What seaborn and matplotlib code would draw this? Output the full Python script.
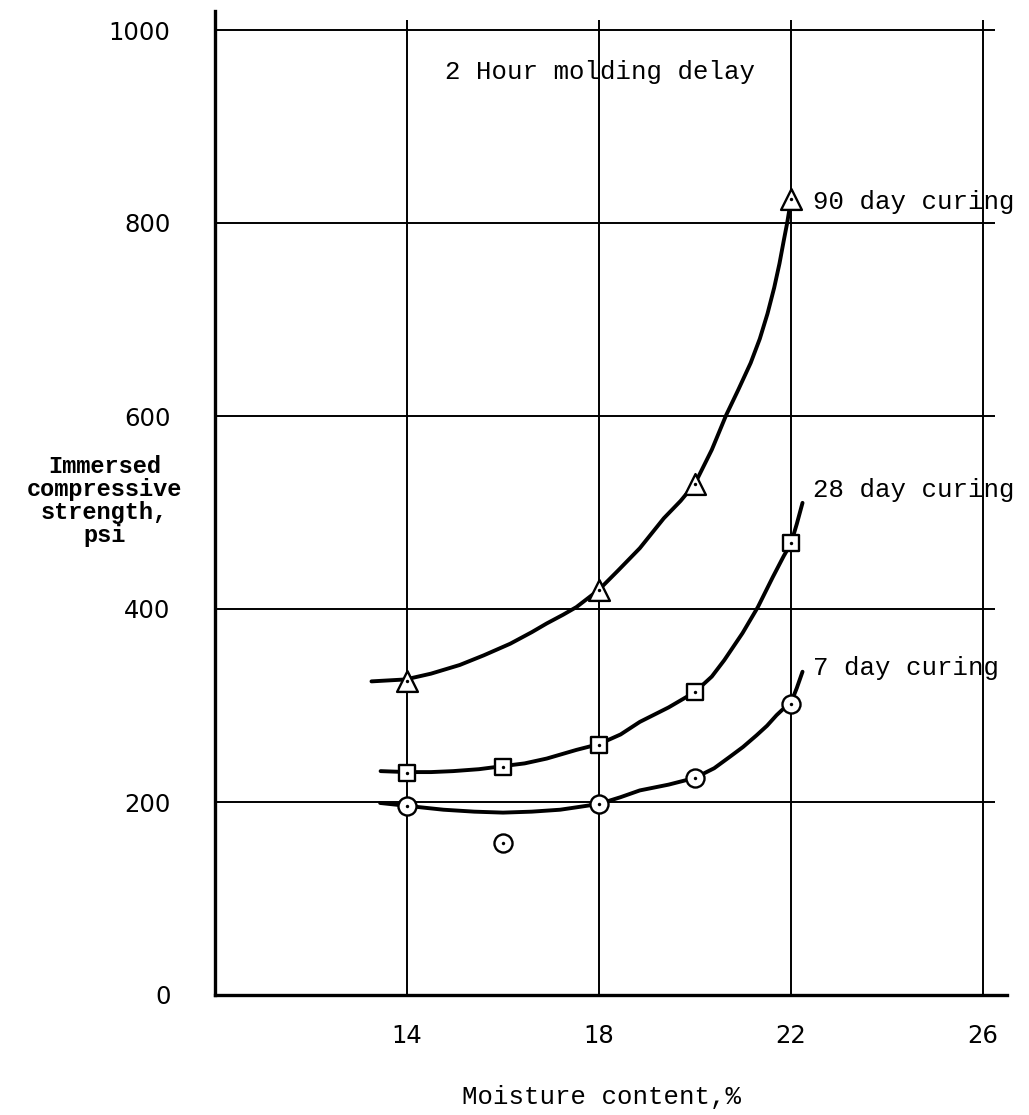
import matplotlib
matplotlib.use("Agg")
import matplotlib.pyplot as plt
import seaborn as sns
import pandas as pd

# ---------------- data ----------------
x_ticks = [14, 18, 22, 26]
y_ticks = [0, 200, 400, 600, 800, 1000]

# measured points
d90_x = [14, 18, 20, 22]
d90_y = [325, 420, 530, 825]
d28_x = [14, 16, 18, 20, 22]
d28_y = [230, 236, 259, 314, 468]
d7_x = [14, 16, 18, 20, 22]
d7_y = [196, 158, 198, 225, 302]

# hand-drawn fitted curves
c90_x = [13.26, 13.97, 14.5, 15.1, 15.6, 16.15, 16.6, 16.91, 17.25, 17.53, 18.0, 18.4, 18.85, 19.35, 19.7,
         20.0, 20.35, 20.65, 20.9, 21.16, 21.35, 21.51, 21.65, 21.76, 21.85, 21.92, 21.97]
c90_y = [325, 327, 333, 342, 352, 364, 376, 385, 394, 402, 420, 440, 463, 494, 512,
         530, 565, 601, 627, 655, 680, 706, 733, 758, 782, 800, 815]
c28_x = [13.45, 14.0, 14.5, 14.96, 15.5, 15.97, 16.45, 16.91, 17.53, 18.0, 18.45, 18.85, 19.45, 20.0,
         20.35, 20.61, 20.99, 21.31, 21.62, 21.85, 22.0, 22.12, 22.24]
c28_y = [232, 231, 231, 232, 234, 237, 240, 245, 254, 260, 270, 283, 298, 314,
         330, 347, 375, 402, 433, 455, 468, 488, 510]
c7_x = [13.44, 14.0, 14.76, 15.4, 16.0, 16.6, 17.19, 17.6, 18.0, 18.45, 18.85, 19.45, 20.0, 20.4,
        20.73, 21.0, 21.28, 21.5, 21.7, 21.85, 22.0, 22.12, 22.24]
c7_y = [199, 196, 192, 190, 189, 190, 192, 195, 198, 205, 212, 218, 225, 235,
        247, 257, 269, 279, 290, 297, 303, 318, 335]

series_labels = ["90 day curing", "28 day curing", "7 day curing"]
label_pos = [(22.46, 822), (22.46, 523), (22.46, 339)]
title_text = "2 Hour molding delay"
title_pos = (14.79, 956)
xlabel_text = "Moisture content,%"
ylabel_text = "Immersed\ncompressive\nstrength,\npsi"

# ---------------- figure ----------------
sns.set_theme(style="white")
plt.rcParams["font.family"] = ["DejaVu Sans"]
plt.rcParams["text.color"] = "black"
mono = ["Liberation Mono", "DejaVu Sans Mono"]

fig = plt.figure(figsize=(10.29, 11.15), dpi=100)
ax = fig.add_axes([215 / 1029, 120 / 1115, 792 / 1029, 984.3 / 1115])
ax.set_xlim(10, 26.5)
ax.set_ylim(0, 1020)

# grid
ax.hlines([v for v in y_ticks if v > 0], 10, 26.25, color="black", lw=1.4, zorder=1)
ax.vlines(x_ticks, 0, 1010, color="black", lw=1.4, zorder=1)

for s in ["top", "right"]:
    ax.spines[s].set_visible(False)
for s in ["left", "bottom"]:
    ax.spines[s].set_color("black")
    ax.spines[s].set_linewidth(2.4)

ax.set_xticks(x_ticks)
ax.set_yticks(y_ticks)
ax.tick_params(length=0, labelsize=17.5, colors="black", labelcolor="black")
ax.tick_params(axis="x", pad=21)
ax.tick_params(axis="y", pad=32)

# curves
curves = pd.concat([
    pd.DataFrame({"x": c90_x, "y": c90_y, "s": "90"}),
    pd.DataFrame({"x": c28_x, "y": c28_y, "s": "28"}),
    pd.DataFrame({"x": c7_x, "y": c7_y, "s": "7"}),
])
for key in ["90", "28", "7"]:
    sub = curves[curves.s == key]
    sns.lineplot(x=sub.x.values, y=sub.y.values, sort=False, estimator=None,
                 color="black", lw=2.8, ax=ax, zorder=3, solid_capstyle="round",
                 solid_joinstyle="round")

# markers
for xs, ys, mk, sz in [(d90_x, d90_y, "^", 15), (d28_x, d28_y, "s", 12), (d7_x, d7_y, "o", 13)]:
    ax.scatter(xs, ys, marker=mk, s=sz ** 2, facecolors="white", edgecolors="black",
               linewidths=1.7, zorder=4)
    sns.scatterplot(x=xs, y=ys, marker="o", s=6, color="black", edgecolor="black",
                    linewidth=0, ax=ax, zorder=5, legend=False)

# text
ax.text(*title_pos, title_text, family=mono, fontsize=18.5, va="center", ha="left", color="black")
for lab, (lx, ly) in zip(series_labels, label_pos):
    ax.text(lx, ly, lab, family=mono, fontsize=18.5, va="center", ha="left", clip_on=False,
            color="black")
ax.text(18.06, -106, xlabel_text, family=mono, fontsize=18.5, va="center", ha="center",
        clip_on=False, color="black")
ax.text(7.7, 512, ylabel_text, family=mono, fontsize=17, fontweight="bold", color="black",
        va="center", ha="center", multialignment="center", linespacing=1.0, clip_on=False)

fig.savefig("out.png", dpi=100, facecolor="white")
